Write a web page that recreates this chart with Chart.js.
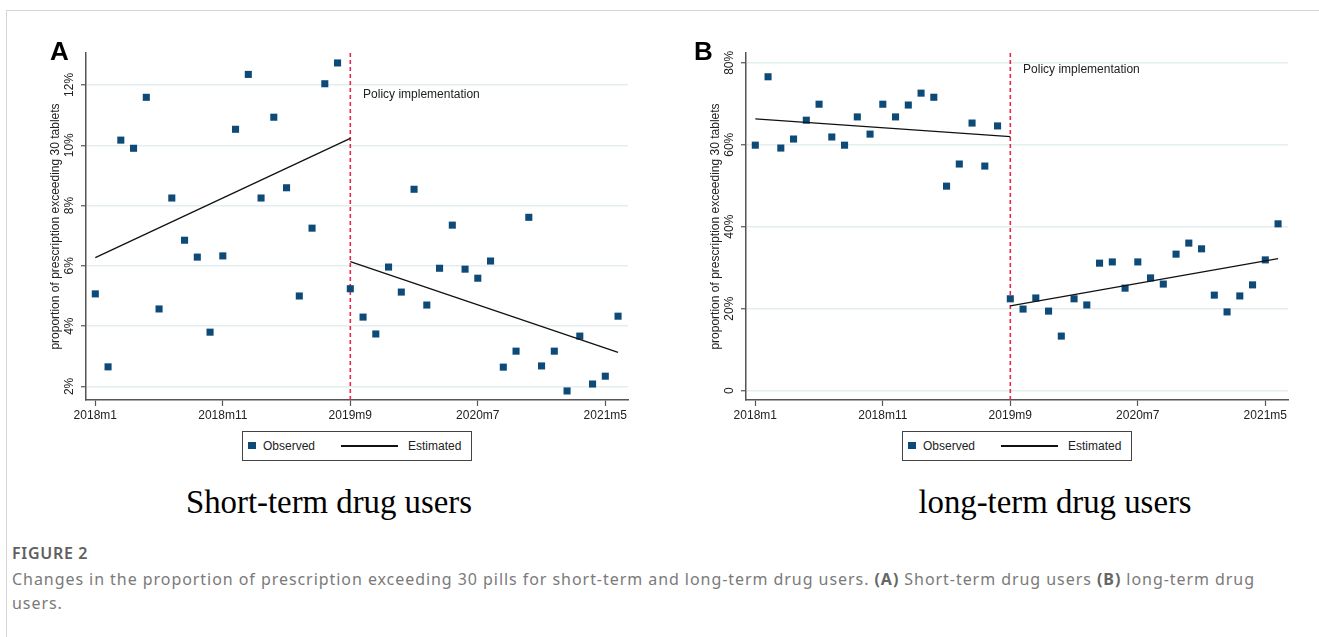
<!DOCTYPE html>
<html>
<head>
<meta charset="utf-8">
<script src="https://cdn.jsdelivr.net/npm/chart.js@4.4.1/dist/chart.umd.min.js"></script>
<style>
  body { margin: 0; width: 1319px; height: 637px; background: #fff; overflow: hidden; position: relative; font-family: "Liberation Sans", Arial, sans-serif; }
  .frame { position: absolute; left: 6px; top: 10px; width: 1400px; height: 700px; border: 1.5px solid #d6d6d6; }
  .panel { position: absolute; top: 0; width: 660px; height: 430px; }
  .letter { position: absolute; top: 38px; font: bold 26px "Liberation Sans", Arial, sans-serif; line-height: 26px; color: #000; }
  .legend { position: absolute; top: 431px; width: 228px; height: 28px; border: 1px solid #444; font: 12px "Liberation Sans", Arial, sans-serif; color: #222; }
  .legend .sq { position: absolute; left: 5px; top: 10px; width: 8px; height: 7px; background: #0d4a78; }
  .legend .t1 { position: absolute; left: 20px; top: 7px; }
  .legend .ln { position: absolute; left: 98px; top: 13px; width: 57px; height: 1.5px; background: #111; }
  .legend .t2 { position: absolute; left: 165px; top: 7px; }
  .subtitle { position: absolute; top: 482px; width: 500px; text-align: center; font: 32.8px "Liberation Serif", "Times New Roman", serif; line-height: 40px; color: #000; }
  .figlabel { position: absolute; left: 12px; top: 542px; font: 600 16px "Noto Sans", sans-serif; letter-spacing: 0.7px; color: #606060; }
  .caption { position: absolute; left: 12px; top: 567px; font: 16px "Noto Sans", sans-serif; line-height: 24px; color: #7a7a7a; white-space: nowrap; }
  .caption b { color: #666; }
</style>
</head>
<body>
<div class="frame"></div>

<div class="panel" style="left:0"><canvas id="chartA" width="660" height="430"></canvas></div>
<div class="panel" style="left:660px"><canvas id="chartB" width="660" height="430"></canvas></div>

<div class="letter" style="left:50px">A</div>
<div class="letter" style="left:694px">B</div>

<div class="legend" style="left:242px"><div class="sq"></div><div class="t1">Observed</div><div class="ln"></div><div class="t2">Estimated</div></div>
<div class="legend" style="left:902px"><div class="sq"></div><div class="t1">Observed</div><div class="ln"></div><div class="t2">Estimated</div></div>

<div class="subtitle" style="left:79px">Short-term drug users</div>
<div class="subtitle" style="left:805px">long-term drug users</div>

<div class="figlabel">FIGURE 2</div>
<div class="caption" id="caption"><span id="capLine">Changes in the proportion of prescription exceeding 30 pills for short-term and long-term drug users. <b>(A)</b> Short-term drug users <b>(B)</b> long-term drug</span><br>users.</div>

<script>
  const months = [
    '2018m1', '2018m2', '2018m3', '2018m4', '2018m5', '2018m6', '2018m7', '2018m8', '2018m9', '2018m10', '2018m11', '2018m12',
    '2019m1', '2019m2', '2019m3', '2019m4', '2019m5', '2019m6', '2019m7', '2019m8', '2019m9', '2019m10', '2019m11', '2019m12',
    '2020m1', '2020m2', '2020m3', '2020m4', '2020m5', '2020m6', '2020m7', '2020m8', '2020m9', '2020m10', '2020m11', '2020m12',
    '2021m1', '2021m2', '2021m3', '2021m4', '2021m5', '2021m6'
  ];
  const xTickLabels = ['2018m1', '2018m11', '2019m9', '2020m7', '2021m5'];
  const policyMonth = '2019m9';
  const policyLabel = 'Policy implementation';

  // short-term users (%)
  const shortObserved = [
    5.07, 2.65, 10.17, 9.90, 11.59, 4.57, 8.25, 6.85, 6.29, 3.80, 6.33, 10.53,
    12.35, 8.25, 10.93, 8.59, 5.00, 7.25, 12.04, 12.73, 5.24, 4.30, 3.74, 5.96,
    5.13, 8.54, 4.70, 5.92, 7.35, 5.89, 5.59, 6.16, 2.64, 3.17, 7.61, 2.68,
    3.17, 1.85, 3.67, 2.08, 2.34, 4.33
  ];
  const shortEstPre = [6.27, 10.23];
  const shortEstPost = [6.14, 3.13];
  const shortYTicks = [2, 4, 6, 8, 10, 12];
  const shortLabelY = 11.69;

  // long-term users (%)
  const longObserved = [
    59.9, 76.6, 59.2, 61.4, 66.0, 69.9, 61.9, 59.9, 66.8, 62.6, 69.9, 66.8,
    69.7, 72.6, 71.6, 49.9, 55.3, 65.3, 54.8, 64.6, 22.4, 19.9, 22.6, 19.4,
    13.3, 22.4, 20.9, 31.1, 31.4, 25.0, 31.4, 27.5, 26.0, 33.3, 36.0, 34.6,
    23.3, 19.2, 23.1, 25.8, 31.9, 40.7
  ];
  const longEstPre = [66.3, 62.0];
  const longEstPost = [20.7, 32.2];
  const longYTicks = [0, 20, 40, 60, 80];
  const longLabelY = 78.3;

  const estPreMonths = ['2018m1', '2019m9'];
  const estPostMonths = ['2019m9', '2021m6'];

  const AXIS = '#555';
  const GRID = '#e4eef0';
  const TXT = '#222';
  const FONT = '"Liberation Sans", Arial, sans-serif';

  const policyLine = {
    id: 'policyLine',
    beforeDatasetsDraw(chart, args, opts) {
      const { ctx, chartArea, scales: { x, y } } = chart;
      const i = months.indexOf(policyMonth);
      const px = x.getPixelForValue(i);
      ctx.save();
      ctx.strokeStyle = '#e6284f';
      ctx.lineWidth = 1.6;
      ctx.setLineDash([4, 3]);
      ctx.beginPath();
      ctx.moveTo(px, chartArea.top);
      ctx.lineTo(px, chartArea.bottom);
      ctx.stroke();
      ctx.setLineDash([]);
      ctx.fillStyle = TXT;
      ctx.font = '12px ' + FONT;
      ctx.textBaseline = 'middle';
      ctx.textAlign = 'left';
      ctx.fillText(policyLabel, x.getPixelForValue(i + 1), y.getPixelForValue(opts.labelY));
      ctx.restore();
    }
  };

  function toPoints(vals, labels) {
    return vals.map((v, k) => ({ x: months.indexOf(labels ? labels[k] : months[k]), y: v }));
  }

  function makeChart(id, observed, estPre, estPost, yTicks, yMin, yMax, labelY) {
    const ctx = document.getElementById(id).getContext('2d');
    return new Chart(ctx, {
      type: 'scatter',
      data: {
        datasets: [{
          label: 'Estimated',
          data: toPoints(estPre, estPreMonths),
          showLine: true,
          borderColor: '#111',
          borderWidth: 1.3,
          pointRadius: 0
        }, {
          label: 'Estimated post',
          data: toPoints(estPost, estPostMonths),
          showLine: true,
          borderColor: '#111',
          borderWidth: 1.3,
          pointRadius: 0
        }, {
          label: 'Observed',
          data: toPoints(observed),
          pointStyle: 'rect',
          pointRadius: 5,
          backgroundColor: '#0d4a78',
          borderColor: '#0d4a78',
          borderWidth: 0
        }]
      },
      options: {
        responsive: false,
        animation: false,
        layout: { padding: { left: 0, right: 32, top: 53, bottom: 0 } },
        plugins: {
          legend: { display: false },
          tooltip: { enabled: false },
          policyLine: { labelY: labelY }
        },
        scales: {
          x: {
            type: 'linear',
            min: -0.73,
            max: 41.78,
            afterBuildTicks: s => { s.ticks = xTickLabels.map(l => ({ value: months.indexOf(l) })); },
            afterFit: s => { s.height = 30; },
            ticks: {
              callback: v => months[v],
              color: TXT,
              font: { family: FONT, size: 12 },
              padding: 2,
              maxRotation: 0,
              autoSkip: false
            },
            grid: { drawOnChartArea: false, drawTicks: true, tickLength: 6, tickColor: AXIS, tickWidth: 1.2 },
            border: { display: true, color: AXIS, width: 1.5 }
          },
          y: {
            min: yMin,
            max: yMax,
            afterBuildTicks: s => { s.ticks = yTicks.map(v => ({ value: v })); },
            afterFit: s => { s.width = 86; },
            ticks: {
              callback: v => v === 0 ? '0' : v + '%',
              color: TXT,
              font: { family: FONT, size: 12 },
              minRotation: 90,
              maxRotation: 90,
              crossAlign: 'center',
              padding: -1
            },
            grid: { color: GRID, lineWidth: 1.5, drawTicks: true, tickLength: 5, tickColor: AXIS, tickWidth: 1.2 },
            border: { display: true, color: AXIS, width: 1.5 },
            title: {
              display: true,
              text: 'proportion of prescription exceeding 30 tablets',
              color: TXT,
              font: { family: FONT, size: 12 },
              padding: { top: 48, bottom: 0 }
            }
          }
        }
      },
      plugins: [policyLine]
    });
  }

  // stretch caption line to the reference's text width
  function fitCaption() {
    const line = document.getElementById('capLine');
    const cap = document.getElementById('caption');
    const w = line.getBoundingClientRect().width;
    const n = line.textContent.length;
    cap.style.letterSpacing = ((1243 - w) / n).toFixed(3) + 'px';
  }

  document.addEventListener('DOMContentLoaded', () => {
    fitCaption();
    makeChart('chartA', shortObserved, shortEstPre, shortEstPost, shortYTicks, 1.55, 13.06, shortLabelY);
    makeChart('chartB', longObserved, longEstPre, longEstPost, longYTicks, -2.3, 82.4, longLabelY);
  });
</script>
</body>
</html>
